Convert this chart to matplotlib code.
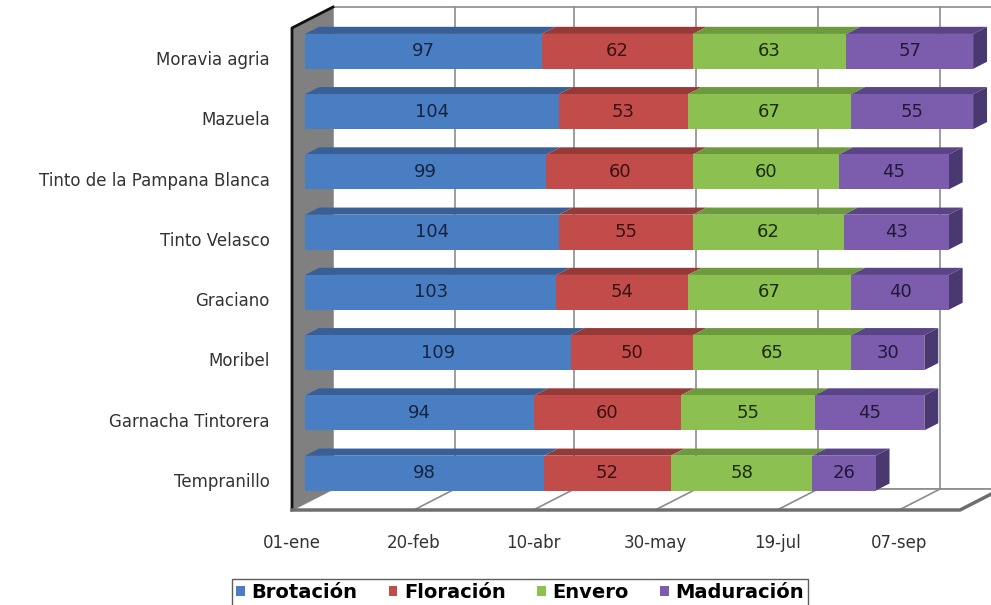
import matplotlib.pyplot as plt
from matplotlib.patches import Polygon

# datos (dias desde el 01-ene), de abajo hacia arriba
variedades = ['Tempranillo', 'Garnacha Tintorera', 'Moribel', 'Graciano',
              'Tinto Velasco', 'Tinto de la Pampana Blanca', 'Mazuela', 'Moravia agria']
brotacion = [98, 94, 109, 103, 104, 99, 104, 97]
floracion = [52, 60, 50, 54, 55, 60, 53, 62]
envero = [58, 55, 65, 67, 62, 60, 67, 63]
maduracion = [26, 45, 30, 40, 43, 45, 55, 57]
fases = ['Brotación', 'Floración', 'Envero', 'Maduración']

tick_days = [0, 50, 99, 149, 199, 249]
tick_labels = ['01-ene', '20-feb', '10-abr', '30-may', '19-jul', '07-sep']
x_max = 274

## colores estilo excel
c_front = ['#4a7ec2', '#c24c4a', '#8cc152', '#7c5cad']
c_top = ['#385f98', '#963a38', '#6c9a3c', '#5a4487']
c_text = ['#16243f', '#3a1212', '#1b2b0c', '#231839']
c_side = '#4a3870'

# profundidad 3d (en unidades de datos)
DX = 16.8
DY = 0.348
f0, f1 = 0.32, 0.66
h = 0.58

fig = plt.figure(figsize=(9.91, 6.05), dpi=100)
ax = fig.add_axes([292 / 991, 95 / 605, 668 / 991, 482 / 605])
ax.set_xlim(0, x_max)
ax.set_ylim(-0.5, 7.5)
for s in ax.spines.values():
    s.set_visible(False)

y0, y1 = -0.5, 7.5
grid = '#8c8c8c'

# pared del fondo
ax.add_patch(Polygon([(DX, y0 + DY), (x_max + DX, y0 + DY), (x_max + DX, y1 + DY), (DX, y1 + DY)],
                     closed=True, facecolor='white', edgecolor=grid, lw=1.2, clip_on=False, zorder=1))
# suelo
ax.add_patch(Polygon([(0, y0), (x_max, y0), (x_max + DX, y0 + DY), (DX, y0 + DY)],
                     closed=True, facecolor='white', edgecolor=grid, lw=1.2, clip_on=False, zorder=1))
# lineas de cuadricula
for d in tick_days[1:]:
    ax.plot([d + DX, d + DX], [y0 + DY, y1 + DY], color=grid, lw=1.2, clip_on=False, zorder=2)
    ax.plot([d, d + DX], [y0, y0 + DY], color=grid, lw=1.2, clip_on=False, zorder=2)
# pared lateral gris
ax.add_patch(Polygon([(0, y0), (DX, y0 + DY), (DX, y1 + DY), (0, y1)],
                     closed=True, facecolor='#808080', edgecolor='none', clip_on=False, zorder=2))
ax.plot([0, 0, DX], [y0, y1, y1 + DY], color='#111111', lw=2, clip_on=False, zorder=3)
ax.plot([0, x_max, x_max + DX], [y0, y0, y0 + DY], color='#6e6e6e', lw=2.5, clip_on=False, zorder=3)

# barras apiladas
series = [brotacion, floracion, envero, maduracion]
ypos = list(range(len(variedades)))
left = [0] * len(variedades)
handles = []
for k, vals in enumerate(series):
    starts = [min(l, x_max) for l in left]
    ends = [min(l + v, x_max) for l, v in zip(left, vals)]
    widths = [e - s for s, e in zip(starts, ends)]
    b = ax.barh([y + f0 * DY for y in ypos], widths, left=[s + f0 * DX for s in starts],
                height=h, color=c_front[k], edgecolor='none', zorder=5, label=fases[k])
    for p in b.patches:
        p.set_clip_on(False)
    handles.append(b)
    for i in ypos:
        s, e = starts[i], ends[i]
        yt = i + h / 2
        yb = i - h / 2
        ax.add_patch(Polygon([(s + f0 * DX, yt + f0 * DY), (e + f0 * DX, yt + f0 * DY),
                              (e + f1 * DX, yt + f1 * DY), (s + f1 * DX, yt + f1 * DY)],
                             closed=True, facecolor=c_top[k], edgecolor='none', zorder=4, clip_on=False))
        if k == len(series) - 1:
            ax.add_patch(Polygon([(e + f0 * DX, yb + f0 * DY), (e + f1 * DX, yb + f1 * DY),
                                  (e + f1 * DX, yt + f1 * DY), (e + f0 * DX, yt + f0 * DY)],
                                 closed=True, facecolor=c_side, edgecolor='none', zorder=4, clip_on=False))
        ax.text((s + e) / 2 + f0 * DX, i + f0 * DY, str(series[k][i]), ha='center', va='center',
                fontsize=13, fontweight='medium', color=c_text[k], zorder=6)
    left = [l + v for l, v in zip(left, vals)]

ax.set_xticks(tick_days)
ax.set_xticklabels(tick_labels, fontsize=12, color='#333333')
ax.set_yticks(ypos)
ax.set_yticklabels(variedades, fontsize=12, color='#333333')
ax.tick_params(axis='x', length=0, pad=17)
ax.tick_params(axis='y', length=0, pad=16)

fig.legend(handles=handles, labels=fases, loc='upper left', bbox_to_anchor=(232 / 991, 1 - 579 / 605),
           ncol=4, frameon=True, fancybox=False, edgecolor='#333333',
           prop={'size': 14, 'weight': 'bold'}, handlelength=0.45, handleheight=0.45,
           handletextpad=0.35, columnspacing=1.6, borderpad=0.2, borderaxespad=0)

fig.savefig('out.png', dpi=100)
